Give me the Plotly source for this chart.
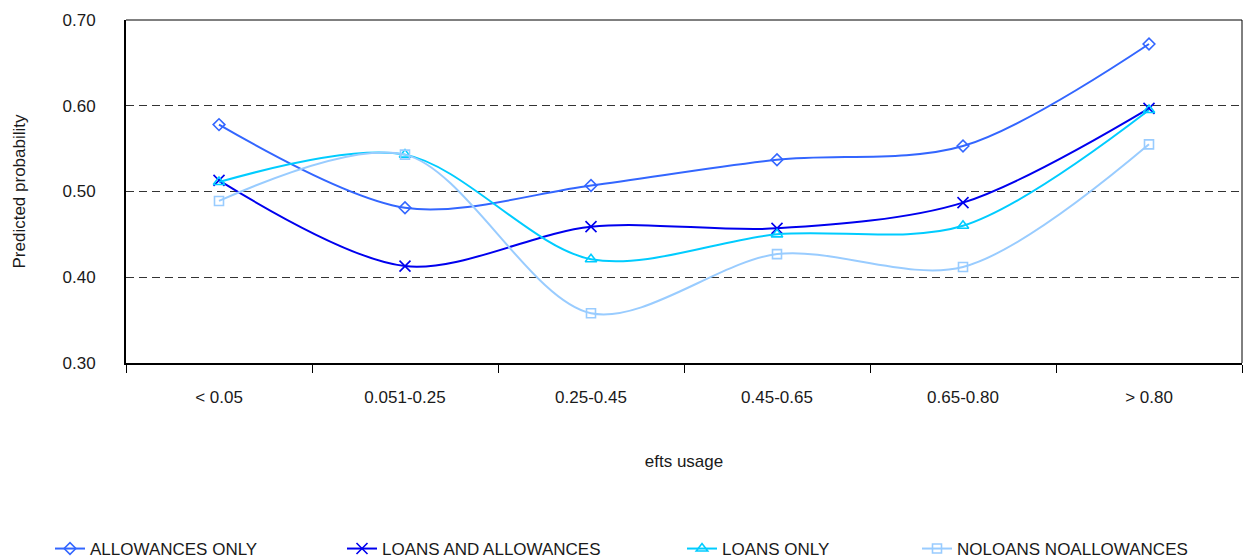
import plotly.graph_objects as go

# efts usage bands on the horizontal axis
categories = ["< 0.05", "0.051-0.25", "0.25-0.45", "0.45-0.65", "0.65-0.80", "> 0.80"]

# predicted probability per group
allowances_only = [0.578, 0.481, 0.507, 0.537, 0.553, 0.672]
loans_and_allowances = [0.513, 0.413, 0.459, 0.457, 0.487, 0.597]
loans_only = [0.511, 0.543, 0.421, 0.450, 0.460, 0.595]
noloans_noallowances = [0.489, 0.543, 0.358, 0.427, 0.412, 0.555]

FONT = "Liberation Sans, Arial, sans-serif"
TEXT = "#1a1a1a"
SIZE = 17

series = [
    ("ALLOWANCES ONLY", allowances_only, "#3366FF", "diamond-open", 9, "legend", 90),
    ("LOANS AND ALLOWANCES", loans_and_allowances, "#0000EE", "x-thin-open", 11, "legend2", 382),
    ("LOANS ONLY", loans_only, "#00CCFF", "triangle-up-open", 10, "legend3", 722),
    ("NOLOANS NOALLOWANCES", noloans_noallowances, "#99CCFF", "square-open", 9, "legend4", 957),
]

fig = go.Figure()
for name, vals, color, symbol, size, leg, _ in series:
    fig.add_trace(go.Scatter(
        x=categories, y=vals, name=name, mode="lines+markers",
        line=dict(color=color, width=2, shape="spline", smoothing=0.9),
        marker=dict(symbol=symbol, size=size, color=color,
                    line=dict(color=color, width=1.6)),
        legend=leg,
    ))

# one legend per series so each entry sits at its own spot along the bottom
legend_layout = {}
for name, vals, color, symbol, size, leg, text_x in series:
    legend_layout[leg] = dict(
        xref="container", yref="container",
        x=(text_x - 40) / 1247, y=1 - 549 / 560,
        xanchor="left", yanchor="middle",
        orientation="h", bgcolor="rgba(0,0,0,0)", borderwidth=0,
        font=dict(family=FONT, size=SIZE, color=TEXT),
    )

fig.update_layout(
    width=1247, height=560,
    margin=dict(l=126, r=5, t=20, b=197),
    paper_bgcolor="white", plot_bgcolor="white",
    font=dict(family=FONT, size=SIZE, color=TEXT),
    showlegend=True,
    **legend_layout,
)

fig.update_xaxes(
    type="category", range=[-0.5, 5.5],
    tickson="boundaries", ticks="outside", ticklen=8, tickcolor="black", tickwidth=1,
    showline=True, linecolor="black", linewidth=2,
    showgrid=False, zeroline=False,
    ticklabelstandoff=18,
    tickfont=dict(family=FONT, size=SIZE, color=TEXT),
    title=dict(text="efts usage", standoff=49,
               font=dict(family=FONT, size=SIZE, color=TEXT)),
)

fig.update_yaxes(
    range=[0.30, 0.70], dtick=0.1, tickformat=".2f",
    showline=True, linecolor="black", linewidth=2,
    ticks="", showgrid=True, gridcolor="#333333", gridwidth=1, griddash="8px,5px",
    zeroline=False,
    ticklabelstandoff=25,
    tickfont=dict(family=FONT, size=SIZE, color=TEXT),
    title=dict(text="Predicted probability", standoff=33,
               font=dict(family=FONT, size=SIZE, color=TEXT)),
)

# thin frame along the top and right of the plotting area
fig.add_shape(type="line", xref="paper", yref="paper", x0=0, x1=1, y0=1, y1=1,
              line=dict(color="black", width=1))
fig.add_shape(type="line", xref="paper", yref="paper", x0=1, x1=1, y0=0, y1=1,
              line=dict(color="black", width=1))

fig.write_html("out.html")
